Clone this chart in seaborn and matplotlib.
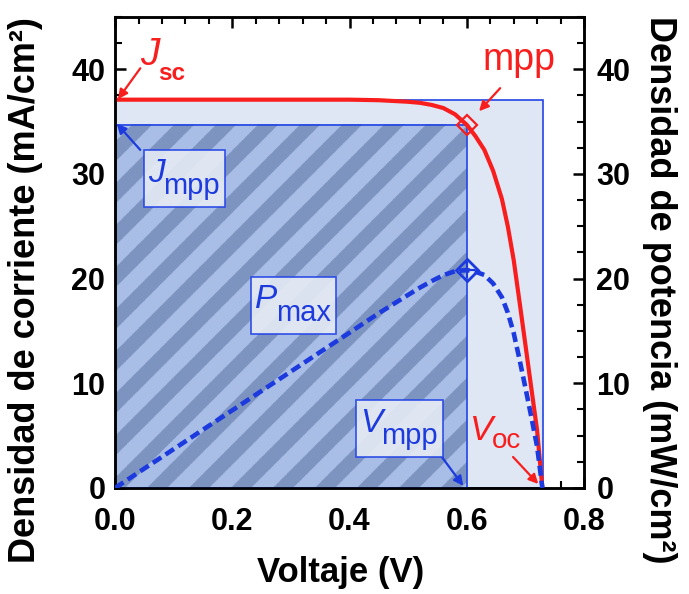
import numpy as np
import pandas as pd
import matplotlib
matplotlib.use("Agg")
import matplotlib.pyplot as plt
import seaborn as sns
from matplotlib.patches import Rectangle
from matplotlib.colors import ListedColormap
from matplotlib.ticker import MultipleLocator, FormatStrFormatter

# J-V curve
voltage = [0.0, 0.05, 0.10, 0.15, 0.20, 0.25, 0.30, 0.35, 0.40, 0.45, 0.50, 0.52,
           0.54, 0.56, 0.58, 0.60, 0.615, 0.63, 0.645, 0.66, 0.67, 0.68, 0.69,
           0.70, 0.71, 0.72, 0.729]
current = [37.1, 37.1, 37.1, 37.1, 37.1, 37.1, 37.1, 37.1, 37.1, 37.05, 36.9, 36.8,
           36.6, 36.3, 35.7, 34.7, 33.6, 32.3, 30.3, 27.6, 25.0, 21.8, 17.8,
           13.7, 9.6, 5.5, 0.0]
power = [0.0, 1.86, 3.71, 5.57, 7.42, 9.28, 11.13, 12.99, 14.84, 16.70, 18.45, 19.14,
         19.76, 20.33, 20.71, 20.82, 20.66, 20.35, 19.54, 18.22, 16.75, 14.82, 12.28,
         9.59, 6.82, 3.96, 0.0]

v_mpp = 0.6
j_mpp = 34.7
p_max = 20.8
j_sc = 37.1
v_oc = 0.73

x_ticks = [0.0, 0.2, 0.4, 0.6, 0.8]
y_ticks = [0, 10, 20, 30, 40]

RED = "#f81e1e"
BLUE = "#1c3ade"
EDGE = "#2244e6"

sns.set_style("ticks")
plt.rcParams["font.family"] = ["Liberation Sans", "DejaVu Sans"]
plt.rcParams["font.weight"] = "bold"
plt.rcParams["text.color"] = "black"
plt.rcParams["axes.labelcolor"] = "black"

LEFT, RIGHT, BOTTOM, TOP = 0.167, 0.8476, 0.1785, 0.9714
fig, ax = plt.subplots(figsize=(6.89, 5.94), dpi=100)
fig.subplots_adjust(left=LEFT, right=RIGHT, top=TOP, bottom=BOTTOM)

# light outer rectangle (Jsc x Voc)
ax.add_patch(Rectangle((0, 0), v_oc, j_sc, facecolor="#dfe7f5", edgecolor=EDGE,
                       lw=1.2, zorder=1))

# striped inner rectangle (Jmpp x Vmpp), stripes at 45 degrees on screen
px_v = 689 * (RIGHT - LEFT) / 0.8
px_j = 594 * (TOP - BOTTOM) / 45
gx = np.linspace(0, v_mpp, 700) * px_v
gy = np.linspace(0, j_mpp, 500) * px_j
X, Y = np.meshgrid(gx, gy)
period = 42
band = ((X - Y + 10) % period) < period * 0.48
ax.imshow(band, extent=(0, v_mpp, 0, j_mpp), origin="lower", aspect="auto",
          cmap=ListedColormap(["#a9bee6", "#7d94c0"]), interpolation="antialiased",
          zorder=2)
ax.add_patch(Rectangle((0, 0), v_mpp, j_mpp, fill=False, edgecolor=EDGE, lw=1.2,
                       zorder=3))
ax.set_xlim(0, 0.8)
ax.set_ylim(0, 45)

df = pd.DataFrame({"voltage": voltage, "current": current, "power": power})
sns.lineplot(data=df, x="voltage", y="current", ax=ax, color=RED, lw=3.0, zorder=5)
ax.plot(v_mpp, j_mpp, marker="D", ms=10, mfc="none", mec=RED, mew=1.6, zorder=6)

ax2 = ax.twinx()
sns.lineplot(data=df, x="voltage", y="power", ax=ax2, color=BLUE, lw=3.3,
             linestyle=(0, (2.2, 1.1)), zorder=5)
ax2.plot(v_mpp, p_max, marker="D", ms=11, mfc="none", mec=BLUE, mew=2, zorder=6)
ax2.plot(v_mpp, p_max, marker="+", ms=12, mec=BLUE, mew=1.6, zorder=6)
ax2.set_ylim(0, 45)

# ticks and spines
for a in (ax, ax2):
    for s in a.spines.values():
        s.set_linewidth(1.8)
        s.set_color("black")
ax.set_xticks(x_ticks)
ax.xaxis.set_major_formatter(FormatStrFormatter("%.1f"))
ax.xaxis.set_minor_locator(MultipleLocator(0.04))
ax.set_yticks(y_ticks)
ax.yaxis.set_minor_locator(MultipleLocator(2.5))
ax2.set_yticks(y_ticks)
ax2.yaxis.set_minor_locator(MultipleLocator(2.5))
ax.tick_params(which="major", direction="in", length=8, width=1.8, top=True,
               right=False, labelsize=22, pad=7, colors="black")
ax.tick_params(axis="x", which="major", pad=14)
ax.tick_params(which="minor", direction="in", length=5, width=1.5, top=True,
               right=False, colors="black")
ax2.tick_params(which="major", direction="in", length=8, width=1.8, labelsize=22,
                pad=9, colors="black")
ax2.tick_params(which="minor", direction="in", length=5, width=1.5, colors="black")

ax.set_xlabel("Voltaje (V)", fontsize=25, fontweight="bold", va="center")
ax.xaxis.set_label_coords(0.48, -0.18)
ax.set_ylabel("Densidad de corriente (mA/cm²)", fontsize=26, fontweight="bold",
              va="center")
ax.yaxis.set_label_coords(-0.19, 0.42)
ax2.set_ylabel("Densidad de potencia (mW/cm²)", fontsize=26, fontweight="bold",
               rotation=270, va="center")
ax2.yaxis.set_label_coords(1.162, 0.42)


def arrow(head, tail, color):
    ax2.annotate("", xy=head, xytext=tail,
                 arrowprops=dict(arrowstyle="-|>", color=color, lw=1.6,
                                 mutation_scale=14, shrinkA=0, shrinkB=0),
                 zorder=7)


def tag(x, y, main, sub, color, size, sub_size, sub_weight, drop):
    t1 = ax2.text(x, y, main, color=color, fontsize=size, style="italic",
                  fontweight="normal", ha="left", va="baseline", zorder=8)
    t2 = ax2.annotate(sub, xy=(1, 0), xycoords=t1, xytext=(-1, -drop),
                      textcoords="offset points", color=color, fontsize=sub_size,
                      fontweight=sub_weight, ha="left", va="bottom", zorder=8)
    return t1, t2


boxed_tags = []
boxed_tags.append(tag(0.056, 29.2, "J", "mpp", BLUE, 24, 21, "normal", 8))
boxed_tags.append(tag(0.239, 17.2, "P", "max", BLUE, 24, 21, "normal", 9))
boxed_tags.append(tag(0.418, 5.35, "V", "mpp", BLUE, 24, 21, "normal", 8))
tag(0.043, 40.4, "J", "sc", RED, 28, 17.5, "bold", 8.5)
tag(0.606, 4.6, "V", "oc", RED, 25, 20, "normal", 5)
ax2.text(0.627, 39.9, "mpp", color=RED, fontsize=27, fontweight="normal",
         ha="left", va="baseline", zorder=8)

arrow((0.005, 37.15), (0.043, 40.1), RED)
arrow((0.621, 36.0), (0.657, 38.2), RED)
arrow((0.003, 34.8), (0.043, 32.3), BLUE)
arrow((0.594, 0.2), (0.555, 3.15), BLUE)
arrow((0.722, 0.38), (0.679, 2.96), RED)

# boxes around the blue labels, sized from the rendered text
fig.canvas.draw()
renderer = fig.canvas.get_renderer()
inv = ax2.transData.inverted()
for t1, t2 in boxed_tags:
    b1 = t1.get_window_extent(renderer)
    b2 = t2.get_window_extent(renderer)
    x0 = min(b1.x0, b2.x0) - 4
    x1 = max(b1.x1, b2.x1) + 5
    y0 = b2.y0 - 7
    y1 = y0 + 57
    (dx0, dy0), (dx1, dy1) = inv.transform([(x0, y0), (x1, y1)])
    ax2.add_patch(Rectangle((dx0, dy0), dx1 - dx0, dy1 - dy0, facecolor="#e4eaf4",
                            alpha=0.92, edgecolor=EDGE, lw=1.2, zorder=7.5))

fig.savefig("out.png", dpi=100)
